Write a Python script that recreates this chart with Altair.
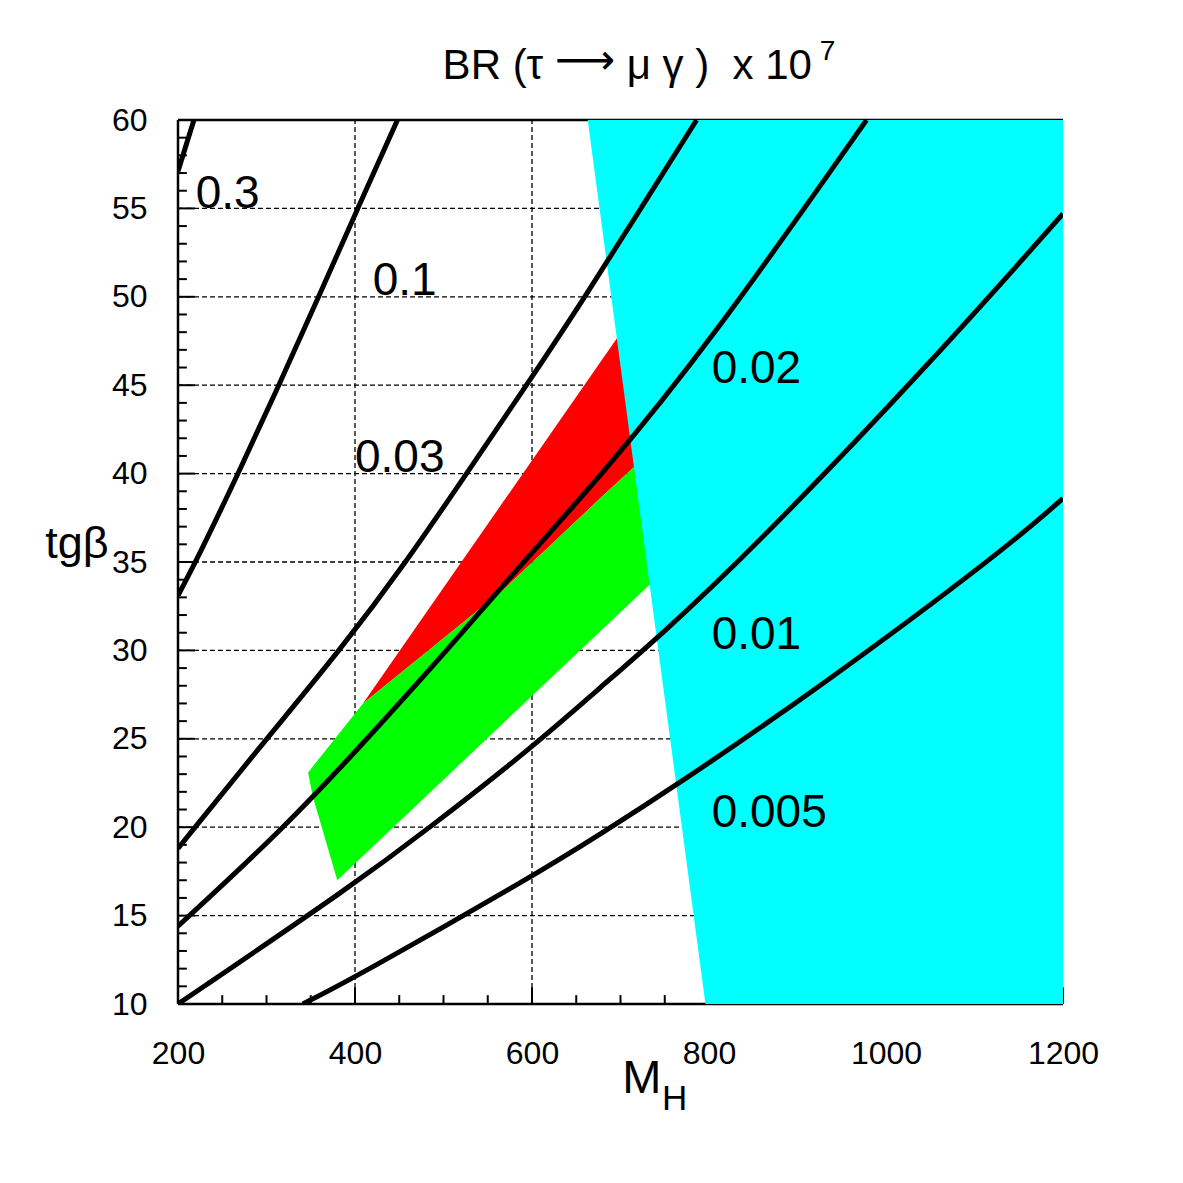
import altair as alt
import pandas as pd

FONT = "Liberation Sans"

# iso-BR contours (BR x 1e7): M_H and tg beta
contour_names = ["0.3", "0.1", "0.03", "0.02", "0.01", "0.005"]
contour_mh = [
    [200, 218],
    [200, 223, 268, 314, 359, 403, 448],
    [200, 300, 383, 458, 526, 594, 660, 723, 786],
    [200, 321, 414, 504, 590, 677, 801, 978],
    [200, 400, 485, 600, 677, 742, 849, 1053, 1200],
    [341, 400, 600, 677, 764, 922, 1134, 1200],
]
contour_tb = [
    [57.1, 60],
    [33.1, 35.3, 40, 45, 50, 55, 60],
    [18.8, 25, 30, 35, 40, 45, 50, 55, 60],
    [14.4, 20, 25, 30, 35, 39.8, 47.4, 60],
    [10, 16.8, 20, 24.5, 27.9, 30.7, 35.7, 46.4, 54.7],
    [10, 11.5, 17.2, 19.6, 22.4, 27.8, 35.7, 38.6],
]
label_mh = [220, 420, 400, 803, 803, 803]
label_tb = [55, 50.1, 40.1, 45.1, 30.1, 20]

# shaded regions (vertices)
cyan_mh = [663, 796, 1200, 1200]
cyan_tb = [60, 10, 10, 60]
red_mh = [409, 705, 740, 677, 567]
red_tb = [27.0, 48.3, 41.5, 38.6, 33.4]
green_mh = [347, 409, 567, 677, 740, 745, 380, 352]
green_tb = [23.1, 27.0, 33.4, 38.6, 41.5, 34.3, 17.0, 21.8]

x_labels = [200, 400, 600, 800, 1000, 1200]
y_labels = [10, 15, 20, 25, 30, 35, 40, 45, 50, 55, 60]
x_grid = [400, 600, 800, 1000]
y_grid = [15, 20, 25, 30, 35, 40, 45, 50, 55]
x_tick_values = list(range(200, 1201, 50))
y_tick_values = list(range(10, 61))

# inward tick lengths, in data units
Y_TICK_LONG, Y_TICK_SHORT = 19, 10
X_TICK_LONG, X_TICK_SHORT = 0.95, 0.5

xs = alt.Scale(domain=[200, 1200], nice=False, zero=False)
ys = alt.Scale(domain=[10, 60], nice=False, zero=False)

x_axis = alt.Axis(values=x_labels, title=None, format="d", labelFont=FONT,
                  labelFontSize=32, labelColor="black", ticks=False, tickSize=0,
                  labelPadding=34, labelFlush=False, labelOverlap=False,
                  grid=False, domain=False)
y_axis = alt.Axis(values=y_labels, title=None, format="d", labelFont=FONT,
                  labelFontSize=32, labelColor="black", ticks=False, tickSize=0,
                  labelPadding=31, labelFlush=False, labelOverlap=False,
                  grid=False, domain=False)

# dashed grid
gx = pd.DataFrame({"mh": x_grid})
gx["tb"], gx["tb2"] = 10, 60
gy = pd.DataFrame({"tb": y_grid})
gy["mh"], gy["mh2"] = 200, 1200
grid_v = alt.Chart(gx).mark_rule(color="black", strokeWidth=1.3, strokeDash=[5, 3]).encode(
    x=alt.X("mh:Q", scale=xs, axis=x_axis), y=alt.Y("tb:Q", scale=ys, axis=y_axis), y2="tb2:Q"
)
grid_h = alt.Chart(gy).mark_rule(color="black", strokeWidth=1.3, strokeDash=[5, 3]).encode(
    x=alt.X("mh:Q", scale=xs), x2="mh2:Q", y=alt.Y("tb:Q", scale=ys)
)

# tick marks pointing into the frame
yt = pd.DataFrame({"tb": y_tick_values})
yt["mh"] = 200
yt["mh2"] = [200 + (Y_TICK_LONG if v % 5 == 0 else Y_TICK_SHORT) for v in y_tick_values]
xt = pd.DataFrame({"mh": x_tick_values})
xt["tb"] = 10
xt["tb2"] = [10 + (X_TICK_LONG if v % 200 == 0 else X_TICK_SHORT) for v in x_tick_values]

y_ticks = alt.Chart(yt).mark_rule(color="black", strokeWidth=2).encode(
    x=alt.X("mh:Q", scale=xs), x2="mh2:Q", y=alt.Y("tb:Q", scale=ys)
)
x_ticks = alt.Chart(xt).mark_rule(color="black", strokeWidth=2).encode(
    x=alt.X("mh:Q", scale=xs), y=alt.Y("tb:Q", scale=ys), y2="tb2:Q"
)

# frame: left, bottom and top edges (the cyan band covers part of it)
frame = pd.DataFrame({"mh": [200, 200, 200], "mh2": [200, 1200, 1200],
                      "tb": [10, 10, 60], "tb2": [60, 10, 60]})
frame_lines = alt.Chart(frame).mark_rule(color="black", strokeWidth=2.5).encode(
    x=alt.X("mh:Q", scale=xs), x2="mh2:Q", y=alt.Y("tb:Q", scale=ys), y2="tb2:Q"
)


def polygon(mh, tb, color):
    df = pd.DataFrame({"mh": mh, "tb": tb, "k": list(range(len(mh)))})
    return alt.Chart(df).mark_line(
        fill=color, strokeOpacity=0, interpolate="linear-closed", clip=True
    ).encode(x=alt.X("mh:Q", scale=xs), y=alt.Y("tb:Q", scale=ys), order="k:Q")


red = polygon(red_mh, red_tb, "#ff0000")
green = polygon(green_mh, green_tb, "#00ff00")
cyan = polygon(cyan_mh, cyan_tb, "#00ffff")

rows = []
for name, mhs, tbs in zip(contour_names, contour_mh, contour_tb):
    for i, (m, t) in enumerate(zip(mhs, tbs)):
        rows.append({"curve": name, "mh": m, "tb": t, "k": i})
curves = alt.Chart(pd.DataFrame(rows)).mark_line(
    color="black", strokeWidth=5, interpolate="basis", clip=True
).encode(x=alt.X("mh:Q", scale=xs), y=alt.Y("tb:Q", scale=ys),
         detail="curve:N", order="k:Q")

labels = alt.Chart(pd.DataFrame({"mh": label_mh, "tb": label_tb, "name": contour_names})).mark_text(
    align="left", baseline="alphabetic", font=FONT, fontSize=46, color="black"
).encode(x=alt.X("mh:Q", scale=xs), y=alt.Y("tb:Q", scale=ys), text="name:N")


def note(text, mh, tb, size, font=FONT):
    return alt.Chart(pd.DataFrame({"mh": [mh], "tb": [tb], "t": [text]})).mark_text(
        align="left", baseline="alphabetic", font=font, fontSize=size, color="black"
    ).encode(x=alt.X("mh:Q", scale=xs), y=alt.Y("tb:Q", scale=ys), text="t:N")


# title, set piece by piece like the original (non-breaking spaces keep the wide gap)
title_a = note("BR (τ", 499, 62.3, 42)
title_arrow = note("⟶", 626, 62.6, 42, font="DejaVu Sans")
title_b = note("μ γ )\u00a0\u00a0x 10", 707, 62.3, 42)
title_exp = note("7", 925, 63.4, 28)
x_title = note("M", 702, 4.97, 47)
x_title_sub = note("H", 747, 4.0, 35)
y_title = note("tgβ", 50, 35.2, 45)

chart = alt.layer(
    grid_v, grid_h, y_ticks, x_ticks, frame_lines, red, green, cyan, curves, labels,
    title_a, title_arrow, title_b, title_exp, x_title, x_title_sub, y_title
).properties(
    width=885, height=884,
    autosize=alt.AutoSizeParams(type="none"),
    padding={"left": 170, "top": 112, "right": 100, "bottom": 160},
).configure_view(stroke=None)

chart.save("out.html", embed_options={"renderer": "svg", "actions": False})
